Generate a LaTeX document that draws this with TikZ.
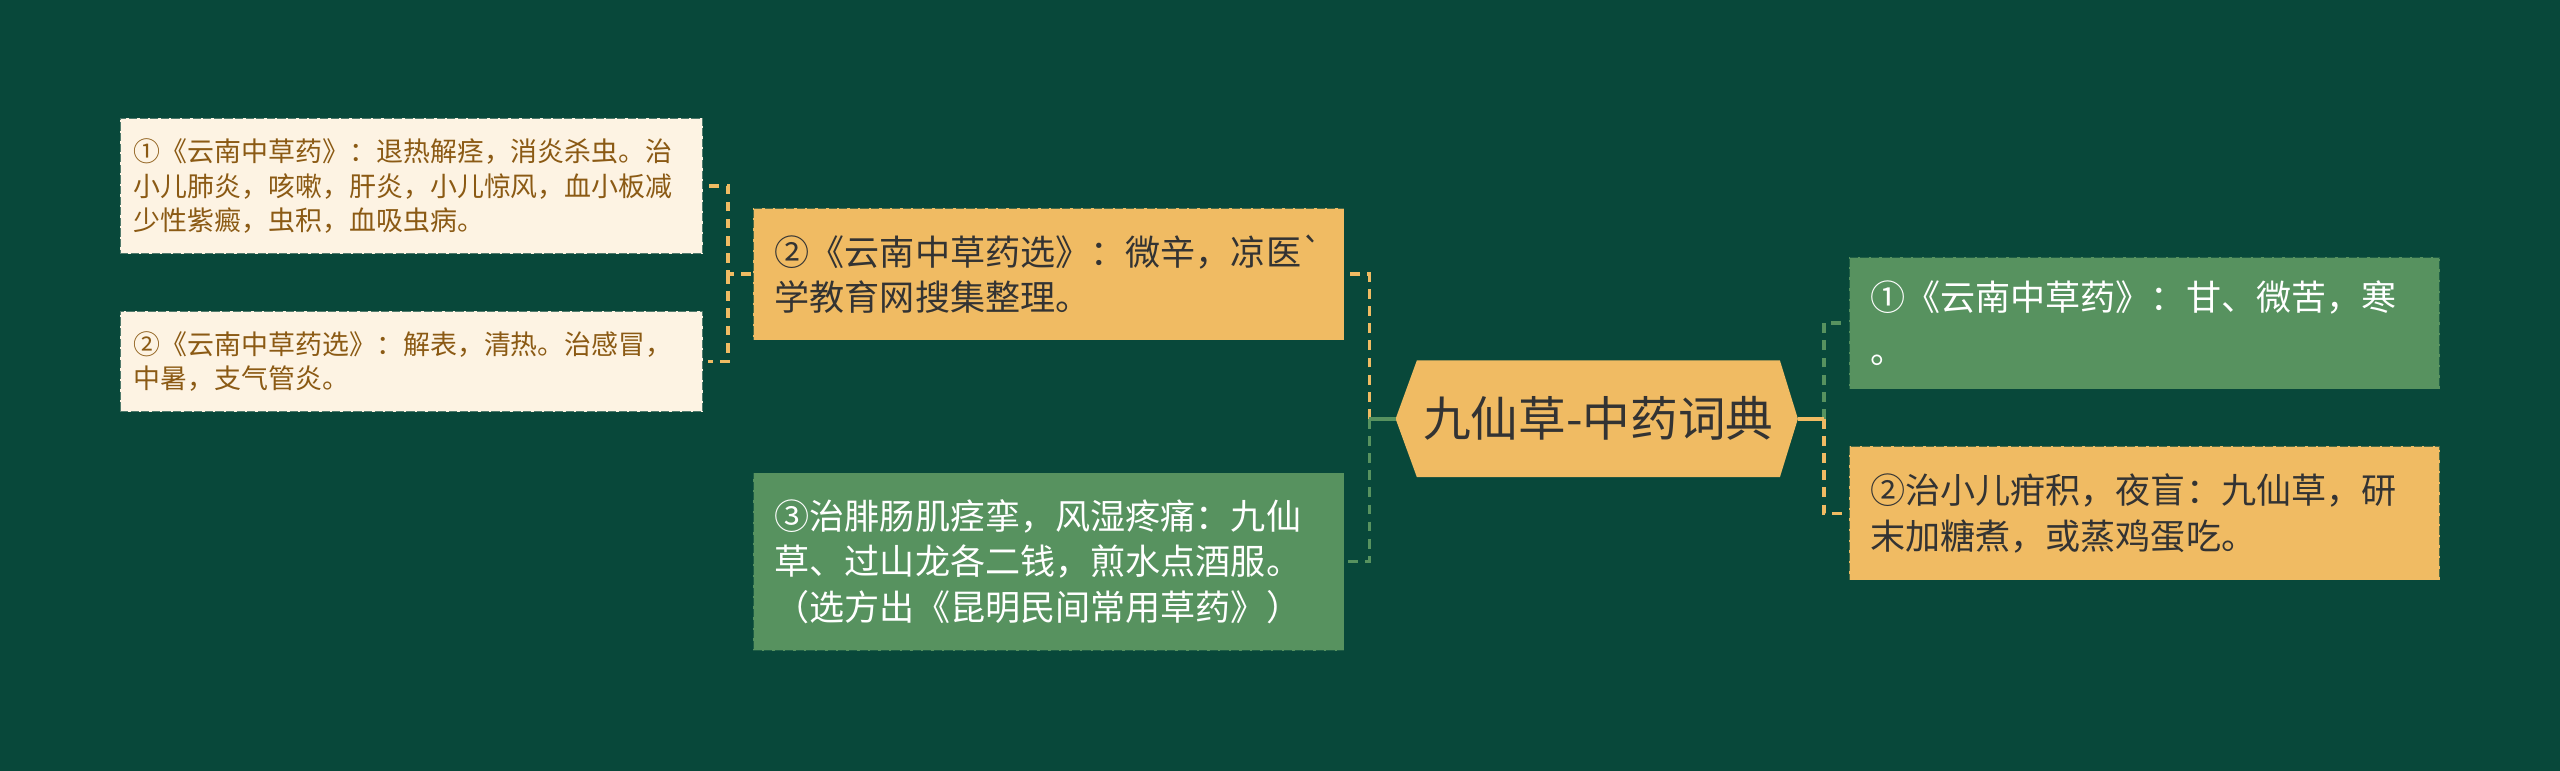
\documentclass[tikz,border=0pt]{standalone}
\usepackage{fontspec}
\newfontfamily\cjk{Noto Sans CJK SC}
\pgfdeclarelayer{back}
\pgfsetlayers{back,main}
\definecolor{bg}{HTML}{08483A}
\definecolor{org}{HTML}{F0BB63}
\definecolor{grn}{HTML}{57925F}
\definecolor{crm}{HTML}{FDF3E3}
\definecolor{brn}{HTML}{8B5A14}
\definecolor{dk}{HTML}{333333}
\begin{document}
\begin{tikzpicture}[x=1pt,y=-1pt,
  box/.style={rectangle, anchor=north west, inner ysep=0pt, align=left,
    draw=bg, draw opacity=0.7, line width=0.9pt, dash pattern=on 5pt off 1.5pt},
  leaf/.style={box, fill=crm, text=brn, font=\cjk\fontsize{16.5}{21.4}\selectfont,
    inner xsep=8.5pt, text width=340pt, minimum width=357pt},
  mid/.style={box, font=\cjk\fontsize{21.5}{28}\selectfont,
    inner xsep=13pt, text width=336pt, minimum width=362pt},
  orgbox/.style={mid, fill=org, text=dk},
  grnbox/.style={mid, fill=grn, text=white},
  hubnode/.style={rectangle, text=dk, font=\cjk\fontsize{29.2}{34}\selectfont,
    minimum width=222pt, minimum height=71pt, inner sep=0pt},
  conn/.style={line width=2.3pt, dash pattern=on 6pt off 4.5pt},
  stub/.style={line width=2.3pt}
]
\begin{pgfonlayer}{back}
\fill[bg] (0,0) rectangle (1568,472);
\end{pgfonlayer}
\useasboundingbox (0,0) rectangle (1568,472);

\node[hubnode] (hub) at (979,256.5) {九仙草-中药词典};
\coordinate (hubL) at ([xshift=-13pt]hub.west);
\coordinate (hubR) at ([xshift=11pt]hub.east);
\begin{pgfonlayer}{back}
\fill[org] (hub.north west) -- (hub.north east) -- (hubR) -- (hub.south east)
  -- (hub.south west) -- (hubL) -- cycle;
\end{pgfonlayer}

\node[orgbox, minimum height=81pt] (A) at (461,127)
  {②《云南中草药选》：微辛，凉医`\\学教育网搜集整理。};
\node[grnbox, minimum height=109pt] (B) at (461,289)
  {③治腓肠肌痉挛，风湿疼痛：九仙\\草、过山龙各二钱，煎水点酒服。\\（选方出《昆明民间常用草药》）};

\node[leaf, minimum height=83pt] (C1) at (73,72)
  {①《云南中草药》：退热解痉，消炎杀虫。治\\小儿肺炎，咳嗽，肝炎，小儿惊风，血小板减\\少性紫癜，虫积，血吸虫病。};
\node[leaf, minimum height=62pt] (C2) at (73,190)
  {②《云南中草药选》：解表，清热。治感冒，\\中暑，支气管炎。};

\node[grnbox, minimum height=81pt] (R1) at (1132,157)
  {①《云南中草药》：甘、微苦，寒\\[4pt]。};
\node[orgbox, minimum height=82pt] (R2) at (1132,273)
  {②治小儿疳积，夜盲：九仙草，研\\末加糖煮，或蒸鸡蛋吃。};

\coordinate (hl) at ([xshift=-16pt]hubL);
\coordinate (hr) at ([xshift=16pt]hubR);
\coordinate (al) at ([xshift=-15pt]A.west);

% left of hub
\draw[conn, org] (hl) |- ([xshift=1pt]A.east);
\draw[stub, org] (hubL) -- (hl);
\draw[conn, grn] (hl) |- ([xshift=1pt]B.east);
\draw[stub, grn] (hubL) -- (hl);
% right of hub
\draw[conn, grn] (hr) |- ([xshift=-1pt]R1.west);
\draw[stub, grn] (hubR) -- (hr);
\draw[conn, org] (hr) |- ([xshift=-1pt]R2.west);
\draw[stub, org] (hubR) -- (hr);
% left of A
\draw[conn, org] ([xshift=-1pt]A.west) -- (al) |- ([xshift=3pt]C1.east);
\draw[conn, org] (al) |- ([xshift=3pt]C2.east);
\end{tikzpicture}
\end{document}
